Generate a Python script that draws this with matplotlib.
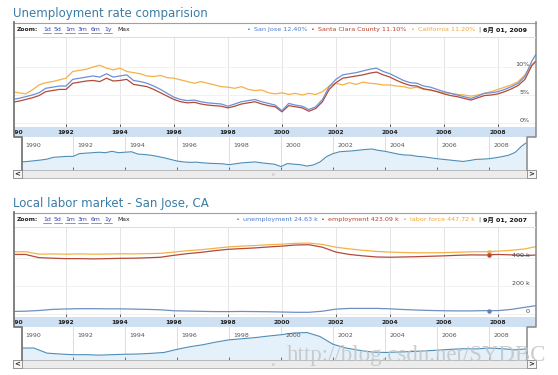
import numpy as np
import matplotlib.pyplot as plt
from matplotlib.patches import Rectangle
import matplotlib.transforms as mtransforms

W, H = 558, 375
FONTS = ['DejaVu Sans', 'Noto Sans CJK SC']

# --- unemployment rate (%), quarterly 1990.00 .. 2009.25, last point = June 2009
rate_dates = list(np.arange(1990.0, 2009.3, 0.25)) + [2009.42]
san_jose = [4.2, 4.4, 4.7, 5.0, 5.4, 6.2, 6.4, 6.6, 6.6, 7.8, 8.0, 8.2, 8.4, 8.2, 8.8, 8.2,
            8.4, 8.6, 7.6, 7.4, 7.1, 6.6, 6.0, 5.3, 4.6, 4.2, 4.0, 4.1, 3.8, 3.6, 3.5, 3.4,
            3.0, 3.4, 3.8, 4.0, 4.2, 3.8, 3.5, 3.2,
            2.2, 3.5, 3.2, 3.0, 2.4, 2.9, 4.2, 6.5, 7.8, 8.6, 8.8, 9.0, 9.3, 9.6, 9.8, 9.2,
            8.8, 8.2, 7.6, 7.2, 7.1, 6.6, 6.4, 6.0, 5.6, 5.3, 5.0, 4.7, 4.4, 4.8, 5.3, 5.4,
            5.6, 6.0, 6.5, 7.1, 8.3, 11.0, 12.4]
santa_clara = [3.7, 3.9, 4.2, 4.5, 4.9, 5.6, 5.8, 6.0, 6.0, 7.1, 7.3, 7.5, 7.6, 7.4, 8.0, 7.5,
               7.6, 7.8, 6.9, 6.7, 6.5, 6.0, 5.4, 4.8, 4.2, 3.8, 3.6, 3.7, 3.4, 3.2, 3.1, 3.0,
               2.7, 3.0, 3.4, 3.6, 3.8, 3.4, 3.1, 2.9,
               2.0, 3.1, 2.9, 2.7, 2.1, 2.6, 3.8, 6.0, 7.2, 8.0, 8.2, 8.4, 8.6, 8.9, 9.1, 8.6,
               8.2, 7.6, 7.1, 6.7, 6.6, 6.1, 5.9, 5.6, 5.2, 4.9, 4.7, 4.4, 4.1, 4.5, 4.9, 5.0,
               5.2, 5.6, 6.1, 6.7, 7.8, 10.2, 11.1]
california = [5.6, 5.4, 5.2, 5.9, 6.8, 7.2, 7.4, 7.7, 8.0, 9.2, 9.4, 9.6, 10.0, 10.3, 9.8, 9.5,
              9.8, 9.2, 9.0, 8.8, 8.4, 8.3, 8.5, 8.1, 8.0, 7.7, 7.4, 7.1, 7.4, 7.1, 6.8, 6.5,
              6.4, 6.2, 6.5, 6.0, 5.8, 5.9, 5.4, 5.2,
              5.4, 5.1, 5.3, 5.0, 5.3, 5.1, 5.6, 6.6, 7.1, 6.8, 7.2, 6.9, 7.3, 7.1, 7.0, 6.8,
              6.8, 6.6, 6.5, 6.2, 6.4, 6.0, 5.9, 5.6, 5.4, 5.3, 5.1, 5.0, 4.8, 5.0, 5.3, 5.6,
              6.0, 6.4, 6.8, 7.4, 8.6, 10.4, 11.2]
rate_hover = ('6月 01, 2009', 2009.42)

# --- San Jose labor market (thousands), semiannual 1990.0 .. 2009.0, last point = June 2009
labor_dates = list(np.arange(1990.0, 2009.1, 0.5)) + [2009.42]
unemployment = [18, 20, 25, 33, 36, 38, 38, 37, 37, 35, 33, 30, 23, 21, 19, 17, 17, 18, 17, 16,
                14, 12, 12, 20, 35, 40, 40, 40, 37, 32, 28, 25, 23, 22, 22, 24, 24, 33, 48, 60]
employment = [428, 428, 405, 401, 398, 398, 396, 398, 400, 401, 404, 408, 422, 434, 443, 455,
              465, 470, 475, 482, 488, 496, 498, 480, 445, 428, 418, 410, 408, 410, 412, 415,
              418, 422, 425, 424, 428, 425, 420, 424]
labor_force = [446, 448, 430, 432, 430, 432, 430, 431, 433, 432, 434, 436, 445, 455, 462, 472,
               482, 488, 492, 498, 502, 508, 510, 500, 480, 468, 458, 450, 445, 442, 440, 440,
               441, 444, 447, 448, 452, 458, 468, 485]
labor_hover = ('9月 01, 2007', 2007.67)
labor_hover_vals = [24.63, 423.09, 447.72]

tick_years = list(range(1990, 2010, 2))

BLUE, RED, ORANGE = '#6f8fd4', '#b24a3a', '#f4b246'
BLUE_T, RED_T, ORANGE_T = '#4a7bd0', '#b8402e', '#f0a535'

fig = plt.figure(figsize=(W / 100, H / 100), dpi=100)


def px(x0, y0, x1, y1):
    return [x0 / W, 1 - y1 / H, (x1 - x0) / W, (y1 - y0) / H]


def draw_panel(dy, dates, series, colors, ylim, yticks, ylabels, nav_vals, nav_ylim):
    # main chart
    ax = fig.add_axes(px(14, 37 + dy, 536, 127 + dy))
    for vals, c in zip(series, colors):
        ax.plot(dates, vals, color=c, lw=0.9)
    ax.set_xlim(1990.074, 2009.41)
    ax.set_ylim(*ylim)
    ax.set_xticks(tick_years[1:])
    ax.set_xticklabels([])
    ax.set_yticks([])
    ax.tick_params(axis='x', direction='in', length=2.5, width=0.6, color='#444')
    for yr in tick_years[1:]:
        ax.axvline(yr, color='#e0e0e0', lw=0.6, zorder=0)
    tr = mtransforms.blended_transform_factory(ax.transAxes, ax.transData)
    for v, lab in zip(yticks, ylabels):
        ax.axhline(v, color='#efefef', lw=0.6, zorder=0)
        ax.text(0.988, v, lab, transform=tr, ha='right', va='bottom',
                fontsize=4.6, color='#444')
    for s in ax.spines.values():
        s.set_visible(False)

    # date band
    band = fig.add_axes(px(14, 127 + dy, 536, 137 + dy), facecolor='#cfe0f3')
    band.set_xlim(1990.074, 2009.41)
    band.set_ylim(0, 1)
    for yr in tick_years:
        band.text(yr + (0.1 if yr == 1990 else 0), 0.45, str(yr), ha='center', va='center',
                  fontsize=4.3, fontweight='bold', color='#222', clip_on=True)
    band.set_xticks([])
    band.set_yticks([])
    for s in band.spines.values():
        s.set_visible(False)

    # navigator
    nav = fig.add_axes(px(22, 137 + dy, 527, 170 + dy))
    nav.fill_between(dates, nav_vals, nav_ylim[0], color='#e4f1fb', lw=0)
    nav.plot(dates, nav_vals, color='#4f8db5', lw=0.8)
    nav.set_xlim(1990.04, 2009.46)
    nav.set_ylim(*nav_ylim)
    nav.set_xticks(tick_years[1:])
    nav.set_xticklabels([])
    nav.set_yticks([])
    nav.tick_params(axis='x', direction='in', length=2, width=0.6, color='#555', pad=0)
    for yr in tick_years:
        nav.axvline(yr, color='#d8d8d8', lw=0.6, zorder=0)
        nav.text(yr + 0.17, 0.74, str(yr), transform=mtransforms.blended_transform_factory(
            nav.transData, nav.transAxes), ha='left', va='center', fontsize=4.5, color='#555')
    for s in nav.spines.values():
        s.set_visible(False)
    return ax


ax1 = draw_panel(0, rate_dates, [california, santa_clara, san_jose], [ORANGE, RED, BLUE],
                 (-0.71, 15.36), [0, 5, 10], ['0%', '5%', '10%'], san_jose, (0.7, 15.0))
ax2 = draw_panel(190, labor_dates, [labor_force, employment, unemployment], [ORANGE, RED, '#6f8fc0'],
                 (-21.8, 625.5), [0, 200, 400], ['0', '200 k', '400 k'], employment, (374, 523))

# hover markers
hx = labor_hover[1]
ax2.plot([hx, hx], [labor_hover_vals[1], labor_hover_vals[2]], color='#c06030', lw=1.2)
ax2.plot([hx], [labor_hover_vals[2]], 'o', ms=2.2, color=ORANGE)
ax2.plot([hx], [labor_hover_vals[1]], 'o', ms=2.2, color=RED)
ax2.plot([hx], [labor_hover_vals[0]], 'o', ms=2.2, color='#5f80b0')

# overlay for frame, header, titles
ov = fig.add_axes([0, 0, 1, 1])
ov.set_xlim(0, W)
ov.set_ylim(H, 0)
ov.axis('off')
ov.patch.set_alpha(0)
renderer = fig.canvas.get_renderer()


def header(dy, title, legend):
    ov.text(13, 13 + dy, title, fontsize=8.5, color='#3a7ca5', va='center', ha='left')
    # frame
    ov.plot([13, 536], [22.5 + dy, 22.5 + dy], color='#a0a0a0', lw=0.8)
    ov.plot([14, 14, 22, 22], [22 + dy, 137 + dy, 137 + dy, 170 + dy], color='#777', lw=1.3)
    ov.plot([535.5, 535.5, 527, 527], [22 + dy, 137 + dy, 137 + dy, 170 + dy], color='#888', lw=1.1)
    ov.plot([15, 535], [37 + dy, 37 + dy], color='#dcdcdc', lw=0.7)
    # scrollbar
    ov.add_patch(Rectangle((13, 170 + dy), 523, 8, facecolor='#ececec', edgecolor='#b0b0b0', lw=0.6))
    for x0, sym in [(13, '<'), (527, '>')]:
        ov.add_patch(Rectangle((x0, 170 + dy), 9, 8, facecolor='#f6f6f6', edgecolor='#888', lw=0.6))
        ov.text(x0 + 4.5, 174 + dy, sym, ha='center', va='center', fontsize=5,
                fontweight='bold', color='#222')
    ov.text(273, 174.5 + dy, 'III', ha='center', va='center', fontsize=3.2, color='#aaa')
    # zoom links
    y = 29.5 + dy
    ov.text(17, y, 'Zoom:', fontsize=4.4, fontweight='bold', color='#222', va='center')
    for x0, s in zip([43, 54, 65, 78, 91, 104], ['1d', '5d', '1m', '3m', '6m', '1y']):
        t = ov.text(x0, y, s, fontsize=4.4, color='#3344aa', va='center')
        w = t.get_window_extent(renderer=renderer).width
        ov.plot([x0, x0 + w], [y + 3, y + 3], color='#3344aa', lw=0.4)
    ov.text(117, y, 'Max', fontsize=4.4, color='#222', va='center')
    # legend chain, right aligned
    texts = []
    for s, c, wt, gap in legend:
        t = ov.text(0, y, s, fontsize=4.6, color=c, fontweight=wt, va='center', ha='left',
                    family=FONTS)
        texts.append((t, gap))
    widths = [t.get_window_extent(renderer=renderer).width for t, _ in texts]
    x = 527 - sum(widths) - sum(g for _, g in texts)
    for (t, gap), wd in zip(texts, widths):
        t.set_x(x)
        x += wd + gap


header(0, 'Unemployment rate comparision', [
    ('•', BLUE_T, 'normal', 3), ('San Jose 12.40%', BLUE_T, 'normal', 4),
    ('•', RED_T, 'normal', 3), ('Santa Clara County 11.10%', RED_T, 'normal', 4),
    ('•', ORANGE_T, 'normal', 3), ('California 11.20%', ORANGE_T, 'normal', 3),
    ('|', '#666', 'normal', 3), (rate_hover[0], '#111', 'bold', 0)])
header(190, 'Local labor market - San Jose, CA', [
    ('•', BLUE_T, 'normal', 3), ('unemployment 24.63 k', BLUE_T, 'normal', 4),
    ('•', RED_T, 'normal', 3), ('employment 423.09 k', RED_T, 'normal', 4),
    ('•', ORANGE_T, 'normal', 3), ('labor force 447.72 k', ORANGE_T, 'normal', 3),
    ('|', '#666', 'normal', 3), (labor_hover[0], '#111', 'bold', 0)])

ov.text(287, 355, 'http://blog.csdn.net/SYDBC', family='Liberation Serif', fontsize=16.5,
        color='#c4c4c4', alpha=0.85, ha='left', va='center')

fig.savefig('out.png', dpi=100)
